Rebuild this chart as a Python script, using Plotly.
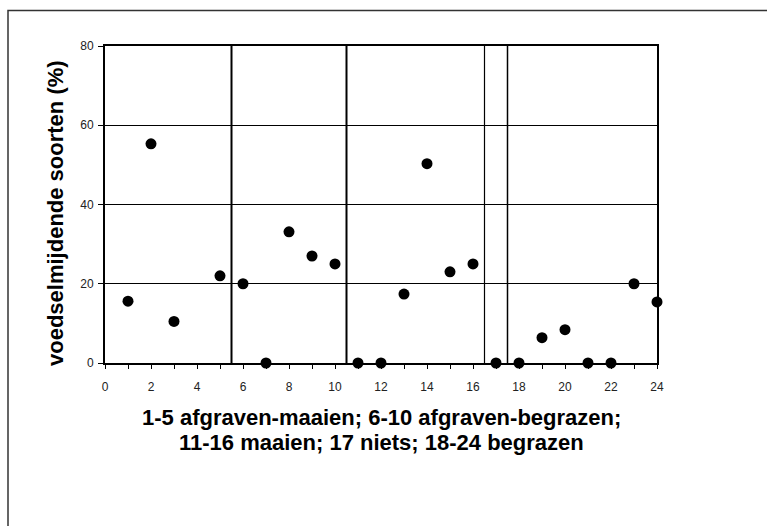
import plotly.graph_objects as go

# Data
plots = list(range(1, 25))
pct = [15.6, 55.3, 10.5, None, 22.0, 20.0, 0.0, 33.1, 27.0, 25.0,
       0.0, 0.0, 17.4, 50.3, 23.0, 25.0, 0.0, 0.0, 6.4, 8.4,
       0.0, 0.0, 20.0, 15.4]
x_pts = [p for p, v in zip(plots, pct) if v is not None]
y_pts = [v for v in pct if v is not None]

group_bounds = [5.5, 10.5, 16.5, 17.5]
bound_widths = [2, 2, 1.2, 1.5]
x_tickvals = list(range(0, 25, 2))
y_tickvals = [0, 20, 40, 60, 80]

y_title = "voedselmijdende soorten (%)"
x_title_lines = ["1-5 afgraven-maaien; 6-10 afgraven-begrazen;",
                 "11-16 maaien; 17 niets; 18-24 begrazen"]

FONT = "Liberation Sans, Arial, sans-serif"
W, H = 767, 526
ML, MR, MT, MB = 105, 110, 46, 163

fig = go.Figure()
fig.add_trace(go.Scatter(
    x=x_pts, y=y_pts, mode="markers",
    marker=dict(color="black", size=11),
    cliponaxis=False, showlegend=False, hoverinfo="x+y",
))

shapes = []
for xb, lw in zip(group_bounds, bound_widths):
    shapes.append(dict(type="line", xref="x", yref="paper", x0=xb, x1=xb, y0=0, y1=1,
                       line=dict(color="black", width=lw), layer="above"))

pw = W - ML - MR
ph = H - MT - MB
def px_x(p):
    return (p - ML) / pw
def px_y(p):
    return (H - MB - p) / ph

# outer frame (extends past right / bottom edges of picture)
shapes.append(dict(type="rect", xref="paper", yref="paper",
                   x0=px_x(8), x1=px_x(800), y0=px_y(560), y1=px_y(10.5),
                   line=dict(color="#333333", width=1.5), fillcolor="rgba(0,0,0,0)"))

annotations = [
    dict(text=y_title, xref="paper", yref="paper", x=px_x(55), y=px_y(213),
         textangle=-90, showarrow=False, xanchor="center", yanchor="middle",
         font=dict(size=22, family=FONT, color="black", weight="bold")),
]
for line, yc in zip(x_title_lines, [417, 442]):
    annotations.append(dict(text=line, xref="paper", yref="paper", x=0.5, y=px_y(yc),
                            showarrow=False, xanchor="center", yanchor="middle",
                            font=dict(size=22, family=FONT, color="black", weight="bold")))

fig.update_layout(
    width=W, height=H,
    margin=dict(l=ML, r=MR, t=MT, b=MB),
    paper_bgcolor="white", plot_bgcolor="white",
    font=dict(family=FONT, color="black"),
    shapes=shapes,
    xaxis=dict(range=[0, 24], tickvals=x_tickvals, ticks="outside", ticklen=4,
               tickcolor="black", tickwidth=1,
               minor=dict(dtick=1, ticks="outside", ticklen=4, tickcolor="black", showgrid=False),
               showgrid=False, zeroline=False, showline=True, linecolor="black", linewidth=2,
               mirror=True, tickfont=dict(size=12, color="#222"), ticklabelstandoff=8),
    yaxis=dict(range=[0, 80], tickvals=y_tickvals, ticks="outside", ticklen=5,
               tickcolor="black", showgrid=True, gridcolor="black", gridwidth=1,
               zeroline=False, showline=True, linecolor="black", linewidth=2, mirror=True,
               tickfont=dict(size=12, color="#222"), ticklabelstandoff=2),
    annotations=annotations,
)

fig.write_html("out.html")
